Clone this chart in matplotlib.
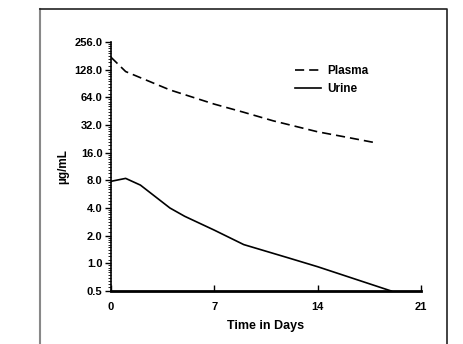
import numpy as np
import matplotlib
matplotlib.use('Agg')
import matplotlib.pyplot as plt
from matplotlib.lines import Line2D
from matplotlib.ticker import FixedLocator, FixedFormatter

# data
plasma_days = [0, 1, 4, 7, 9, 11, 14, 16, 18]
plasma_vals = [175, 122, 77, 54, 44, 35.5, 27, 23.5, 20.4]

urine_days = [0, 1, 2, 4, 5, 7, 9, 12, 14, 19]
urine_vals = [7.8, 8.4, 7.1, 4.0, 3.25, 2.3, 1.6, 1.15, 0.92, 0.5]

y_ticks = [0.5, 1, 2, 4, 8, 16, 32, 64, 128, 256]
y_labels = ['0.5', '1.0', '2.0', '4.0', '8.0', '16.0', '32.0', '64.0', '128.0', '256.0']
x_ticks = [0, 7, 14, 21]

plt.rcParams['font.family'] = ['Liberation Sans Narrow', 'Liberation Sans', 'DejaVu Sans']
plt.rcParams['font.weight'] = 'bold'

fig = plt.figure(figsize=(4.64, 3.44), dpi=100)
ax = fig.add_axes([0.239, 0.154, 0.668, 0.724])

ax.plot(plasma_days, plasma_vals, color='black', lw=1.2, dashes=(5.5, 3), label='Plasma')
ax.plot(urine_days, urine_vals, color='black', lw=1.2, label='Urine')

ax.set_yscale('log', base=2)
ax.set_ylim(0.5, 256)
ax.set_xlim(0, 21)

ax.yaxis.set_major_locator(FixedLocator(y_ticks))
ax.yaxis.set_major_formatter(FixedFormatter(y_labels))
minor = [v * (1 + k / 10) for v in y_ticks[:-1] for k in range(1, 10)]
ax.yaxis.set_minor_locator(FixedLocator(minor))
ax.yaxis.set_minor_formatter(FixedFormatter([''] * len(minor)))
ax.set_xticks(x_ticks)

ax.tick_params(axis='x', direction='in', length=4, width=1, labelsize=8, pad=8)
ax.tick_params(axis='y', which='major', direction='out', length=4, width=1, labelsize=8, pad=2)
ax.tick_params(axis='y', which='minor', direction='out', length=2, width=0.6)

ax.spines['top'].set_visible(False)
ax.spines['right'].set_visible(False)
ax.spines['bottom'].set_linewidth(2)
ax.spines['left'].set_linewidth(1.2)

ax.set_ylabel('µg/mL', fontsize=8.5, fontweight='bold', labelpad=4)
ax.set_xlabel('Time in Days', fontsize=9, fontweight='bold', labelpad=6)

ax.legend(loc='upper left', bbox_to_anchor=(0.58, 0.925), frameon=False, fontsize=8.5,
          handlelength=2.2, handletextpad=0.5, labelspacing=0.45, borderaxespad=0)

# outer frame
fig.add_artist(Line2D([40 / 464, 40 / 464], [0, 1 - 9 / 344], transform=fig.transFigure, color='#888888', lw=1.5))
fig.add_artist(Line2D([40 / 464, 447 / 464, 447 / 464], [1 - 9 / 344, 1 - 9 / 344, 0],
                      transform=fig.transFigure, color='#222222', lw=1.2))

fig.savefig('out.png', dpi=100)
